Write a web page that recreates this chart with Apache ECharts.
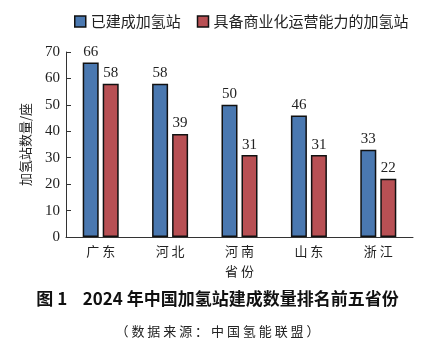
<!DOCTYPE html>
<html>
<head>
<meta charset="utf-8">
<script src="https://cdn.jsdelivr.net/npm/echarts@6/dist/echarts.min.js"></script>
<style>
  html, body { margin: 0; padding: 0; background: #fff; }
  #chart { width: 435px; height: 354px; }
</style>
</head>
<body>
<div id="chart"></div>
<script>
// 数据
const provincias = ['广东', '河北', '河南', '山东', '浙江'];
const construidas = [66, 58, 50, 46, 33];
const comerciales = [58, 39, 31, 31, 22];
const nombres = ['已建成加氢站', '具备商业化运营能力的加氢站'];

const cjk = '"Noto Sans CJK SC", sans-serif';
const serif = '"Liberation Serif", "Times New Roman", serif';

// separa los caracteres con un espacio (no hay letterSpacing)
const espaciar = s => s.split('').join(' ');

const opciones = {
  animation: false,
  title: [
    {
      text: '图 1    2024 年中国加氢站建成数量排名前五省份',
      left: 'center',
      top: 285,
      textStyle: { fontFamily: cjk, fontSize: 17, fontWeight: 'bold', color: '#111' }
    },
    {
      text: espaciar('（数据来源：中国氢能联盟）'),
      left: 'center',
      top: 320,
      textStyle: { fontFamily: cjk, fontSize: 13, fontWeight: 'normal', color: '#222' }
    }
  ],
  legend: {
    top: 9,
    left: 69,
    icon: 'rect',
    itemWidth: 11,
    itemHeight: 11,
    itemGap: 16,
    itemStyle: { borderColor: '#111', borderWidth: 1.5 },
    textStyle: { fontFamily: cjk, fontSize: 15, color: '#222' },
    data: nombres
  },
  grid: { left: 66, right: 22, top: 52, bottom: 117 },
  xAxis: {
    type: 'category',
    data: provincias,
    name: espaciar('省份'),
    nameLocation: 'middle',
    nameGap: 28,
    nameTextStyle: { fontFamily: cjk, fontSize: 13, color: '#222' },
    axisLine: { lineStyle: { color: '#333', width: 1 } },
    axisTick: { inside: true, length: 5, lineStyle: { color: '#555' } },
    axisLabel: { fontFamily: cjk, fontSize: 13, color: '#222', margin: 8, formatter: espaciar }
  },
  yAxis: {
    type: 'value',
    min: 0,
    max: 70,
    interval: 10,
    name: '加氢站数量/座',
    nameLocation: 'middle',
    nameRotate: 90,
    nameGap: 34,
    nameTextStyle: { fontFamily: cjk, fontSize: 13, color: '#222' },
    axisLine: { show: true, lineStyle: { color: '#333', width: 1 } },
    axisTick: { show: true, inside: true, length: 5, lineStyle: { color: '#333' } },
    axisLabel: { fontFamily: serif, fontSize: 15, color: '#222', margin: 6 },
    splitLine: { show: false }
  },
  series: [
    {
      name: nombres[0],
      type: 'bar',
      data: construidas,
      barWidth: 16,
      barGap: '25%',
      itemStyle: { color: '#4a78b0', borderColor: '#111', borderWidth: 1.5 },
      label: { show: true, position: 'top', distance: 3, fontFamily: serif, fontSize: 15, color: '#222' }
    },
    {
      name: nombres[1],
      type: 'bar',
      data: comerciales,
      barWidth: 16,
      itemStyle: { color: '#b85054', borderColor: '#111', borderWidth: 1.5 },
      label: { show: true, position: 'top', distance: 3, fontFamily: serif, fontSize: 15, color: '#222' }
    }
  ]
};

const miGrafico = echarts.init(document.getElementById('chart'));
miGrafico.setOption(opciones);
</script>
</body>
</html>
